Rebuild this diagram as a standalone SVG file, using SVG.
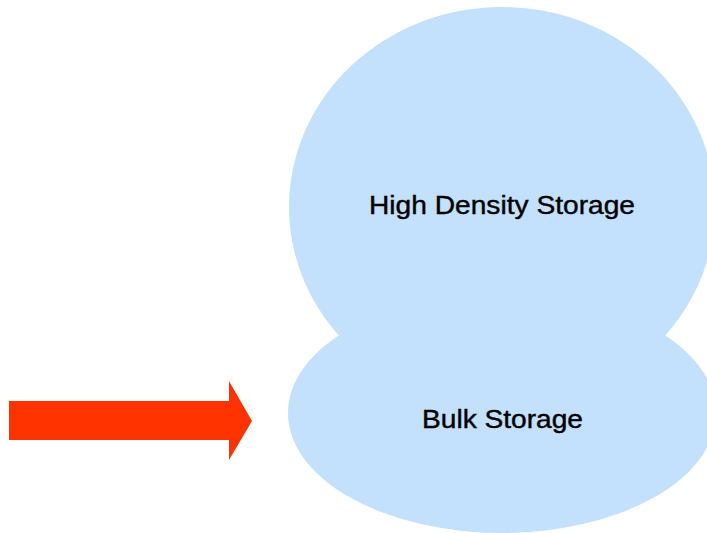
<svg xmlns="http://www.w3.org/2000/svg" width="707" height="533" viewBox="0 0 707 533">
  <style>
    .blob { fill: #C3E0FC; }
    .label { font-family: "Liberation Sans", Arial, sans-serif; font-size: 25px; fill: #000; text-anchor: start; stroke: #000; stroke-width: 0.4px; }
    .arrow { fill: #FF3300; }
  </style>
  <rect width="707" height="533" fill="#FFFFFF"/>
  <g id="bulk-storage">
    <ellipse class="blob" cx="502" cy="413" rx="214" ry="120"/>
  </g>
  <g id="high-density-storage">
    <ellipse class="blob" cx="502" cy="207" rx="213" ry="200"/>
  </g>
  <g id="labels">
    <text class="label" x="369" y="214" textLength="266" lengthAdjust="spacingAndGlyphs">High Density Storage</text>
    <text class="label" x="422" y="428" textLength="161" lengthAdjust="spacingAndGlyphs">Bulk Storage</text>
  </g>
  <g id="connectors">
    <polygon class="arrow" points="9,401 229,401 229,381 252,421 229,460 229,440 9,440"/>
  </g>
</svg>
